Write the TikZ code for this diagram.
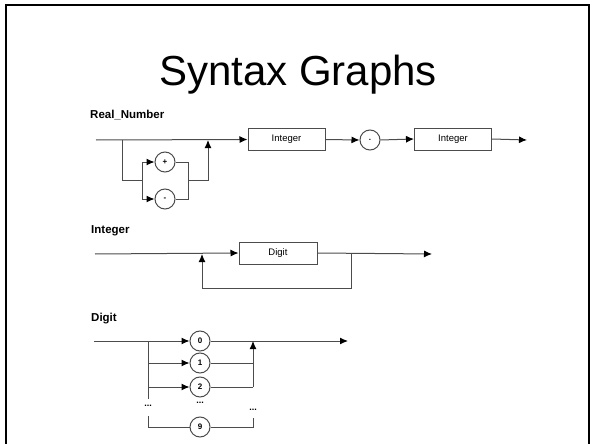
\documentclass[tikz,border=0pt]{standalone}
\usepackage{fontspec}
\setmainfont{Liberation Sans}
\usepackage{tikz}
\usetikzlibrary{positioning, arrows.meta, calc}

\begin{document}
\begin{tikzpicture}[x=1pt, y=-1pt,
    >={Latex[length=8pt, width=7pt, fill=black, color=black]},
    wire/.style={draw=black!70, line width=1pt},
    term/.style={draw=black!70, line width=1pt, minimum width=77pt,
      minimum height=22pt, inner sep=0pt, font=\fontsize{9.5}{9.5}\selectfont},
    lit/.style={draw=black!70, line width=1pt, circle, minimum size=20pt,
      inner sep=0pt, font=\fontsize{8}{8}\selectfont\bfseries},
    rulename/.style={anchor=base west, inner sep=0pt,
      font=\fontsize{11.5}{11.5}\selectfont\bfseries},
    dots/.style={inner sep=0pt, font=\fontsize{9}{9}\selectfont\bfseries}]
      \useasboundingbox (0,0) rectangle (595,444);%
      \draw [line width=2pt] (6,444) -- (6,5) -- (589,5) -- (589,444);%
      \node [anchor=base, inner sep=0pt, font=\fontsize{42}{42}\selectfont]
      (Title) at (298,86) {Syntax Graphs};%

      % real number
      \node [rulename] (RN) at (90,119) {Real\_Number};%
      \coordinate (Rstart) at (96,140);%
      \coordinate (Rsplit) at (122,140);%
      \coordinate (Rjoin) at (208,140);%
      \coordinate (Rl) at (142,180);%
      \coordinate (Rr) at (188,180);%
      \coordinate (Rend) at (527,140);%
      \node [term] (Int1) at (286.5,139.5) {Integer};%
      \node [lit] (Dot) at (370,140) {.};%
      \node [term] (Int2) at (453,139) {Integer};%
      \node [lit] (Plus) at (165,162) {+};%
      \node [lit] (Minus) at (165,199) {-};%

      \draw [wire, ->] (Rstart) -- (Int1.west);%
      \draw [wire, ->] (Int1.east) -- (Dot.west);%
      \draw [wire, ->] (Dot.east) -- (Int2.west);%
      \draw [wire, ->] (Int2.east) -- (Rend);%
      \draw [wire] (Rsplit) |- (Rl);%
      \draw [wire, ->] (Rl) |- (Plus.west);%
      \draw [wire, ->] (Rl) |- (Minus.west);%
      \draw [wire] (Plus.east) -| (Rr);%
      \draw [wire] (Minus.east) -| (Rr);%
      \draw [wire, ->] (Rr) -| (Rjoin);%

      % integer
      \node [rulename] (IN) at (91,233) {Integer};%
      \coordinate (Istart) at (95,254);%
      \coordinate (Ijoin) at (202,254);%
      \coordinate (Ibottom) at (202,288);%
      \coordinate (Ibranch) at (351,254);%
      \coordinate (Iend) at (432,254);%
      \node [term, minimum width=78pt] (Dig) at (278,253) {Digit};%

      \draw [wire, ->] (Istart) -- (Dig.west);%
      \draw [wire, ->] (Dig.east) -- (Iend);%
      \draw [wire, ->] (Ibranch) |- (Ibottom) -- (Ijoin);%

      % digit
      \node [rulename] (DN) at (91,321) {Digit};%
      \coordinate (Dstart) at (94,341);%
      \coordinate (Dsplit) at (148,341);%
      \coordinate (Djoin) at (253,341);%
      \coordinate (Dend) at (348,341);%
      \coordinate (Dlow) at (148,399);%
      \coordinate (Dlb) at (148,416);%
      \coordinate (Drb) at (253,418);%
      \node [lit] (D0) at (200,341) {0};%
      \node [lit] (D1) at (200,363) {1};%
      \node [lit] (D2) at (200,387) {2};%
      \node [lit] (D9) at (200,427) {9};%
      \node [dots] (DotsL) at (148,406) {...};%
      \node [dots] (DotsM) at (200,403) {...};%
      \node [dots] (DotsR) at (253,410) {...};%

      \draw [wire, ->] (Dstart) -- (D0.west);%
      \draw [wire, ->] (D0.east) -- (Dend);%
      \draw [wire] (Dsplit) -- (Dlow);%
      \draw [wire, ->] (Dsplit |- D1) -- (D1.west);%
      \draw [wire, ->] (Dsplit |- D2) -- (D2.west);%
      \draw [wire] (D1.east) -- (Djoin |- D1);%
      \draw [wire] (D2.east) -- (Djoin |- D2);%
      \draw [wire, ->] (Djoin |- D2) -- (Djoin);%
      \draw [wire] (Dlb) |- (D9.west);%
      \draw [wire] (D9.east) -| (Drb);%
\end{tikzpicture}
\end{document}
